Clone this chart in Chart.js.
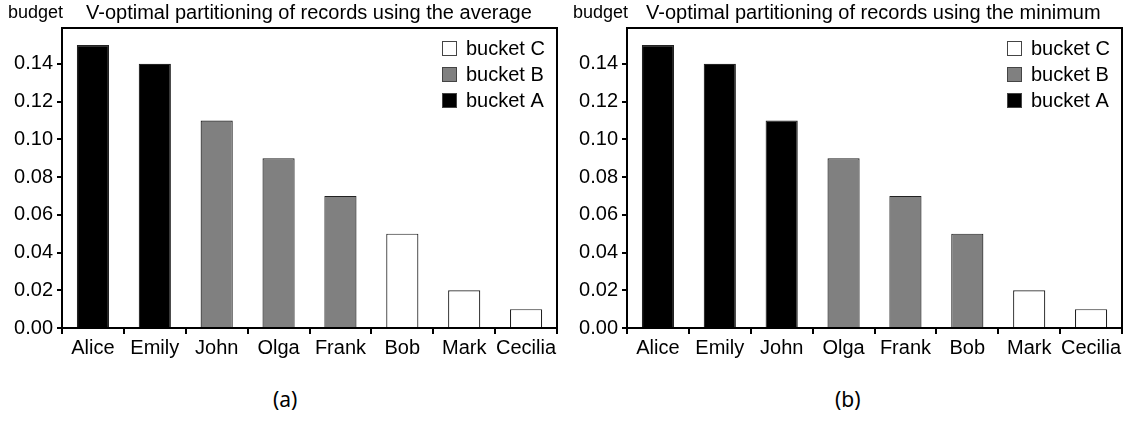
<!DOCTYPE html>
<html>
<head>
<meta charset="utf-8">
<script src="https://cdn.jsdelivr.net/npm/chart.js@4"></script>
<style>
  body { margin: 0; background: #fff; width: 1135px; height: 421px; position: relative; overflow: hidden; }
  canvas { position: absolute; top: 0; }
  #chartAvg { left: 0; }
  #chartMin { left: 565px; }
  .caption { position: absolute; top: 385px; font: 21px "Noto Sans", "DejaVu Sans", sans-serif; color: #000; }
</style>
</head>
<body>
<canvas id="chartAvg" width="567" height="360"></canvas>
<canvas id="chartMin" width="570" height="360"></canvas>
<div class="caption" style="left:273px">(a)</div>
<div class="caption" style="left:835px">(b)</div>
<script>
// Records and their budgets (same for both panels)
const names = ['Alice', 'Emily', 'John', 'Olga', 'Frank', 'Bob', 'Mark', 'Cecilia'];
const budget = [0.15, 0.14, 0.11, 0.09, 0.07, 0.05, 0.02, 0.01];
// Bucket membership per record
const bucketsAvg = ['A', 'A', 'B', 'B', 'B', 'C', 'C', 'C'];
const bucketsMin = ['A', 'A', 'A', 'B', 'B', 'B', 'C', 'C'];
// y axis tick values
const yTicks = [0, 0.02, 0.04, 0.06, 0.08, 0.10, 0.12, 0.14];

const FONT = '"Liberation Sans", Arial, sans-serif';
const fills = { A: '#000000', B: '#808080', C: '#ffffff' };
const legendOrder = ['C', 'B', 'A'];

// frame, heading and in-plot legend
const decor = {
  id: 'decor',
  afterDraw(chart) {
    const ctx = chart.ctx;
    const a = chart.chartArea;
    ctx.save();
    ctx.strokeStyle = '#000';
    ctx.lineWidth = 2;
    ctx.beginPath();
    ctx.moveTo(a.left, a.top);
    ctx.lineTo(a.right, a.top);
    ctx.lineTo(a.right, a.bottom);
    ctx.stroke();

    ctx.fillStyle = '#000';
    ctx.textBaseline = 'middle';
    ctx.textAlign = 'left';
    const opts = chart.options.plugins.decor;
    ctx.font = '18px ' + FONT;
    ctx.fillText('budget', a.left - 54, 13);
    ctx.font = '20px ' + FONT;
    ctx.fillText(opts.heading, a.left + opts.headOffset, 13);

    legendOrder.forEach((b, i) => {
      const y = a.top + 20.5 + i * 26;
      const x = a.right - 115;
      ctx.fillStyle = fills[b];
      ctx.fillRect(x, y - 7.5, 15, 15);
      ctx.strokeStyle = '#444';
      ctx.lineWidth = 1;
      ctx.strokeRect(x + 0.5, y - 7, 14, 14);
      ctx.fillStyle = '#000';
      ctx.fillText('bucket ' + b, x + 24, y + 1);
    });
    ctx.restore();
  }
};

function makeChart(id, buckets, heading, headOffset) {
  const datasets = ['A', 'B', 'C'].map(b => ({
    label: 'bucket ' + b,
    data: budget.map((v, i) => buckets[i] === b ? v : null),
    backgroundColor: fills[b],
    borderColor: '#222',
    borderWidth: 1.2,
    categoryPercentage: 1,
    barPercentage: 0.52
  }));
  const w = document.getElementById(id).width;
  return new Chart(document.getElementById(id), {
    type: 'bar',
    data: { labels: names, datasets },
    plugins: [decor],
    options: {
      responsive: false,
      animation: false,
      layout: { padding: { left: 0, top: 28, right: w - 557, bottom: 0 } },
      plugins: {
        legend: { display: false },
        tooltip: { enabled: false },
        decor: { heading, headOffset }
      },
      scales: {
        x: {
          stacked: true,
          afterFit: s => { s.height = 32; },
          grid: { offset: true, drawOnChartArea: false, tickLength: 6, color: '#000', lineWidth: 2 },
          border: { color: '#000', width: 2 },
          ticks: { color: '#000', font: { size: 20, family: FONT }, padding: 2, maxRotation: 0, autoSkip: false }
        },
        y: {
          stacked: true,
          min: 0,
          max: 0.159,
          afterFit: s => { s.width = 62; },
          afterBuildTicks: s => { s.ticks = yTicks.map(v => ({ value: v })); },
          grid: { drawOnChartArea: false, tickLength: 5, color: '#000', lineWidth: 2 },
          border: { color: '#000', width: 2 },
          ticks: { color: '#000', font: { size: 20, family: FONT }, padding: 4, callback: v => v.toFixed(2) }
        }
      }
    }
  });
}

makeChart('chartAvg', bucketsAvg, 'V-optimal partitioning of records using the average', 24);
makeChart('chartMin', bucketsMin, 'V-optimal partitioning of records using the minimum', 19);
</script>
</body>
</html>
